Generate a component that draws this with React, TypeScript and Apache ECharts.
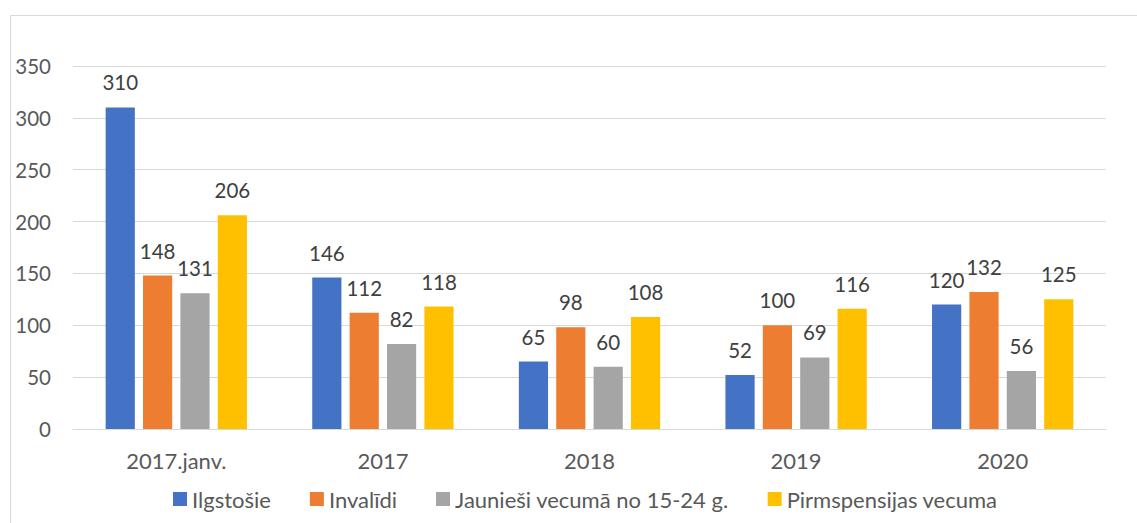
import React, { useEffect, useRef } from "react";
import * as echarts from "echarts";

const categories = ["2017.janv.", "2017", "2018", "2019", "2020"];
const seriesNames = ["Ilgstošie", "Invalīdi", "Jaunieši vecumā no 15-24 g.", "Pirmspensijas vecuma"];
const ilgstosie = [310, 146, 65, 52, 120];
const invalidi = [148, 112, 98, 100, 132];
const jauniesi = [131, 82, 60, 69, 56];
const pirmspensijas = [206, 118, 108, 116, 125];
const colors = ["#4472C4", "#ED7D31", "#A5A5A5", "#FFC000"];
const yTicks = [0, 50, 100, 150, 200, 250, 300, 350];

const FONT = "Lato";
const FS = 22;
const NUM_FS = 20.5;

export default function App() {
  const ref = useRef<HTMLDivElement>(null);
  useEffect(() => {
    document.body.style.margin = "0";
    if (!ref.current) return;
    const chart = echarts.init(ref.current, undefined, { renderer: "svg" });
    const values = [ilgstosie, invalidi, jauniesi, pirmspensijas];
    chart.setOption({
      animation: false,
      backgroundColor: "#ffffff",
      textStyle: { fontFamily: FONT },
      graphic: [
        { type: "line", shape: { x1: 10.5, y1: 15.5, x2: 1137, y2: 15.5 }, style: { stroke: "#d9d9d9", lineWidth: 1 } },
        { type: "line", shape: { x1: 10.5, y1: 15.5, x2: 10.5, y2: 523 }, style: { stroke: "#d9d9d9", lineWidth: 1 } },
      ],
      grid: { left: 73, right: 31, top: 66, bottom: 94, containLabel: false },
      legend: {
        left: 168,
        top: 483,
        itemWidth: 14,
        itemHeight: 14,
        itemGap: 39,
        icon: "rect",
        data: seriesNames,
        textStyle: { fontFamily: FONT, fontSize: FS, lineHeight: FS, color: "#595959" },
      },
      xAxis: {
        type: "category",
        data: categories,
        axisLine: { lineStyle: { color: "#d9d9d9", width: 1 } },
        axisTick: { show: false },
        axisLabel: { fontFamily: FONT, fontSize: FS, lineHeight: FS, color: "#595959", margin: 20 },
      },
      yAxis: {
        type: "value",
        min: yTicks[0],
        max: yTicks[yTicks.length - 1],
        interval: 50,
        axisLine: { show: false },
        axisTick: { show: false },
        splitLine: { lineStyle: { color: "#d9d9d9", width: 1 } },
        axisLabel: { fontFamily: FONT, fontSize: NUM_FS, color: "#595959", margin: 22 },
      },
      series: seriesNames.map((name, i) => ({
        name,
        type: "bar",
        data: values[i],
        barGap: "28%",
        barCategoryGap: "31.6%",
        itemStyle: { color: colors[i] },
        label: {
          show: true,
          position: "top",
          distance: 15,
          fontFamily: FONT,
          fontSize: NUM_FS,
          lineHeight: 20,
          color: "#404040",
        },
      })),
    });
    return () => chart.dispose();
  }, []);
  return <div ref={ref} style={{ width: 1137, height: 523 }} />;
}
